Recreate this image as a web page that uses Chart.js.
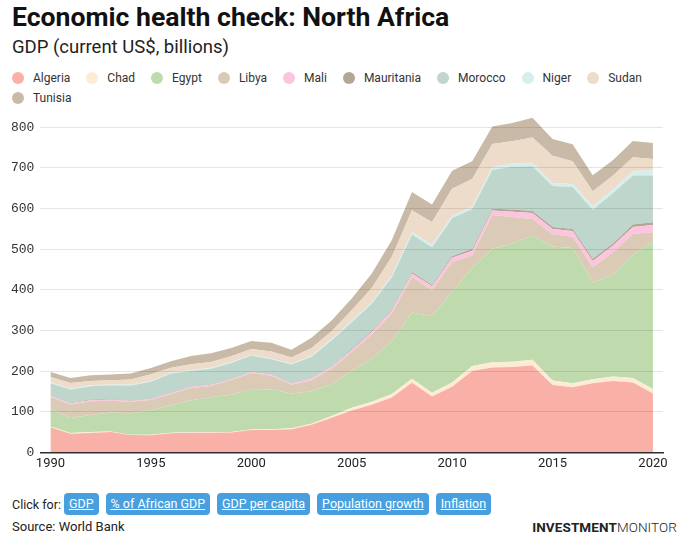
<!DOCTYPE html>
<html>
<head>
<meta charset="utf-8">
<script src="https://cdn.jsdelivr.net/npm/chart.js@4.4.1/dist/chart.umd.min.js"></script>
<style>
  html, body { margin: 0; padding: 0; background: #fff; }
  body { width: 688px; height: 552px; position: relative; overflow: hidden; font-family: Roboto, "Noto Sans", sans-serif; color: #222; }
  #title { position: absolute; left: 12px; top: 1px; font-size: 26.6px; font-weight: 700; color: #111; white-space: nowrap; }
  #subtitle { position: absolute; left: 12px; top: 36px; font-size: 18.5px; color: #222; white-space: nowrap; }
  #legend { position: absolute; left: 12px; top: 68px; width: 670px; display: flex; flex-wrap: wrap; font-size: 12px; color: #333; }
  .li { display: flex; align-items: center; height: 20px; margin-right: 16px; }
  .dot { width: 12px; height: 12px; border-radius: 50%; margin-right: 9px; }
  #wrap { position: absolute; left: 0; top: 93px; width: 688px; height: 393px; }
  #foot1 { position: absolute; left: 12px; top: 493px; display: flex; align-items: center; font-size: 12.5px; color: #222; }
  .btn { background: #479fdf; color: #fff; text-decoration: underline; border-radius: 4px; height: 22px; line-height: 22px; padding: 0 5px; margin-left: 7px; font-size: 12.5px; }
  #source { position: absolute; left: 12px; top: 519px; font-size: 13px; color: #222; }
  #logo { position: absolute; right: 11px; top: 519px; font-size: 13.5px; color: #222; letter-spacing: 0.1px; }
  #logo b { font-weight: 700; }
  #logo span { font-weight: 300; }
</style>
</head>
<body>
<div id="title">Economic health check: North Africa</div>
<div id="subtitle">GDP (current US$, billions)</div>
<div id="legend"></div>
<div id="wrap"><canvas id="c" width="688" height="393"></canvas></div>
<div id="foot1">Click for:<span class="btn" style="margin-left:3px">GDP</span><span class="btn">% of African GDP</span><span class="btn">GDP per capita</span><span class="btn">Population growth</span><span class="btn">Inflation</span></div>
<div id="source">Source: World Bank</div>
<div id="logo"><b>INVESTMENT</b><span>MONITOR</span></div>
<script>
const years = [1990,1991,1992,1993,1994,1995,1996,1997,1998,1999,2000,2001,2002,2003,2004,2005,2006,2007,2008,2009,2010,2011,2012,2013,2014,2015,2016,2017,2018,2019,2020];
const countries = ["Algeria","Chad","Egypt","Libya","Mali","Mauritania","Morocco","Niger","Sudan","Tunisia"];
const algeria = [62.0,45.7,48.0,49.9,42.5,42.0,46.9,48.2,48.2,48.8,54.8,55.2,57.1,68.0,85.3,103.2,117.0,135.0,171.0,137.2,161.2,200.0,209.1,209.8,213.8,165.9,160.0,170.1,175.4,171.8,145.0];
const chad = [1.7,1.9,2.0,1.4,1.1,1.45,1.6,1.5,1.7,1.6,1.4,1.7,2.0,2.7,4.4,6.65,7.4,8.6,10.35,9.25,10.7,12.2,12.4,12.95,13.9,10.95,10.1,10.0,11.3,11.3,10.7];
const egypt = [43.1,37.0,41.9,46.6,52.5,60.2,67.6,78.4,85.5,91.5,99.8,97.6,86.0,80.0,78.8,89.7,106.3,130.5,162.8,189.1,224.0,242.0,279.1,291.0,305.6,329.4,332.4,238.0,250.8,303.1,363.0];
const libya = [29.5,33.0,33.6,29.2,28.4,25.3,27.5,30.5,28.0,36.0,39.0,34.0,21.0,27.0,37.0,47.3,59.3,67.5,87.1,64.0,72.0,30.0,83.4,65.5,41.0,30.0,28.0,37.0,54.0,51.0,23.0];
const mali = [3.0,3.0,3.0,2.4,1.9,2.5,2.7,2.6,2.8,2.8,2.7,2.8,3.3,4.4,4.9,5.3,5.9,7.1,8.7,8.9,10.7,12.0,11.0,12.8,14.4,13.1,14.0,15.4,16.5,17.3,17.5];
const mauritania = [1.3,1.4,1.5,1.3,1.4,1.2,1.2,1.3,1.2,1.2,1.3,1.3,1.3,1.5,1.7,2.2,2.8,2.9,3.5,3.2,4.1,4.4,4.0,5.5,5.2,4.8,4.9,5.5,5.2,6.0,7.0];
const morocco = [29.4,32.5,32.9,34.4,37.0,41.2,46.7,37.5,38.6,38.0,39.5,36.4,45.3,51.4,63.0,66.0,67.0,79.0,92.5,92.9,93.2,98.0,95.6,105.0,110.1,101.2,103.3,121.0,124.0,120.5,115.0];
const niger = [2.5,2.3,2.3,1.6,1.6,1.9,2.0,1.9,2.1,2.0,1.8,2.0,2.2,2.7,3.05,3.4,3.65,4.3,5.4,5.4,5.7,6.4,6.9,7.7,8.2,7.2,7.5,8.1,9.0,11.0,12.5];
const sudan = [13.1,13.9,10.6,10.6,12.6,16.3,12.3,15.0,14.0,14.6,14.0,17.0,15.0,19.0,20.0,26.0,35.0,46.5,54.5,56.0,67.0,67.4,57.0,55.0,62.0,67.0,56.0,37.0,34.0,34.0,28.0];
const tunisia = [12.3,12.4,13.9,13.9,14.8,15.6,15.5,20.0,21.9,20.3,19.7,21.5,19.5,25.0,26.0,29.0,35.5,41.0,44.9,43.5,44.1,43.5,43.0,45.0,49.0,41.0,41.5,39.8,38.5,40.0,39.0];
const yTicks = [0,100,200,300,400,500,600,700,800];
const xTickYears = [1990,1995,2000,2005,2010,2015,2020];

const series = [algeria, chad, egypt, libya, mali, mauritania, morocco, niger, sudan, tunisia];
const colors = ["#f9b0a7","#fdebd6","#bfdbad","#dbcab6","#fcc4de","#b4a694","#bed6cc","#d5eeee","#ecdcc9","#c9baa8"];

const legend = document.getElementById('legend');
countries.forEach((n, i) => {
  const d = document.createElement('div'); d.className = 'li';
  d.innerHTML = '<span class="dot" style="background:' + colors[i] + '"></span>' + n;
  legend.appendChild(d);
});

const datasets = countries.map((n, i) => ({
  label: n,
  data: series[i],
  backgroundColor: colors[i],
  borderColor: colors[i],
  borderWidth: 0,
  pointRadius: 0,
  pointHoverRadius: 0,
  tension: 0,
  fill: i === 0 ? 'origin' : '-1'
}));

new Chart(document.getElementById('c'), {
  type: 'line',
  data: { labels: years.map(String), datasets },
  options: {
    responsive: false,
    animation: false,
    devicePixelRatio: 1,
    layout: { padding: { left: 5, right: 25, top: 6, bottom: 10 } },
    plugins: { legend: { display: false }, tooltip: { enabled: false } },
    scales: {
      x: {
        type: 'category',
        offset: true,
        grid: { display: true, color: 'rgba(0,0,0,0)', drawTicks: false },
        border: { display: true, color: '#333', width: 1.5, z: 1 },
        ticks: {
          autoSkip: false, maxRotation: 0, padding: 4, color: '#222',
          font: { family: 'Roboto', size: 13 },
          callback: (v, i) => xTickYears.includes(years[i]) ? String(years[i]) : ''
        }
      },
      y: {
        stacked: true,
        min: 0, max: 850,
        grid: { color: 'rgba(0,0,0,0.1)', drawTicks: false, z: 1 },
        border: { display: false },
        afterBuildTicks: (scale) => { scale.ticks = yTicks.map(v => ({ value: v })); },
        ticks: { padding: 6, color: '#333', font: { family: 'Liberation Mono', size: 13 } }
      }
    }
  }
});
</script>
</body>
</html>
